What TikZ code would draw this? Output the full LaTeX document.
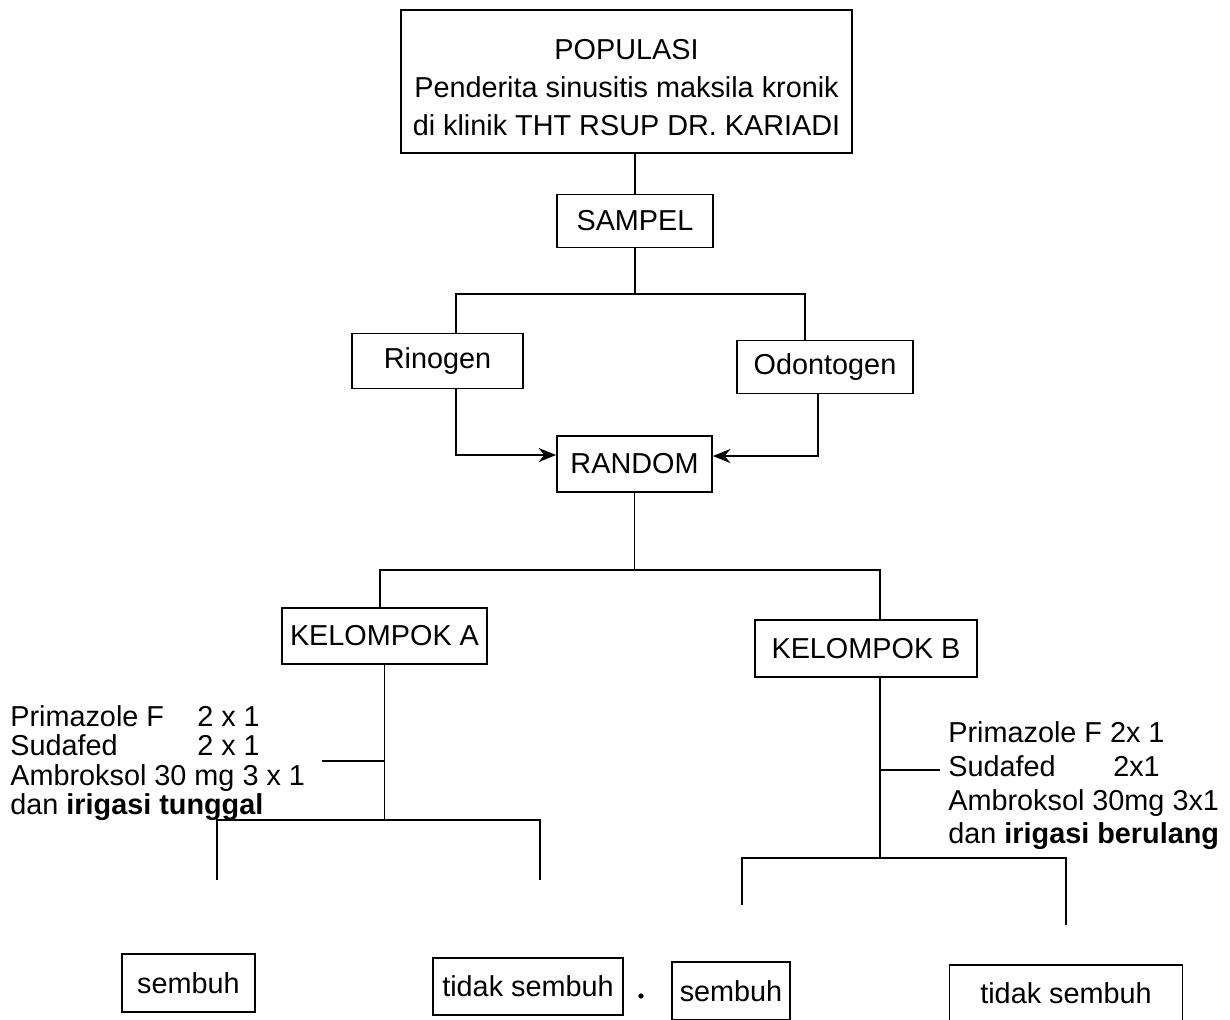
\documentclass[tikz,border=0pt]{standalone}
\usepackage{fontspec}
\setmainfont{Liberation Sans}
\usetikzlibrary{arrows.meta, positioning, calc}

\begin{document}
\begin{tikzpicture}[x=0.02cm, y=-0.02cm,
    every node/.style={font=\fontsize{16.4}{21.8}\selectfont},
    box/.style={rectangle, draw, line width=1pt, inner sep=2pt, align=center},
    note/.style={anchor=north west, inner sep=0pt, align=left},
    link/.style={line width=1pt},
    arr/.style={-{Stealth[length=10pt, width=8pt]}, line width=1pt},
]
\useasboundingbox (0,0) rectangle (1230,1019);

% boxes, top to bottom
\node[box, minimum width=9.02cm, minimum height=2.86cm, text height=62pt] (pop) at (626.5,81.5)
    {POPULASI\\Penderita sinusitis maksila kronik\\di klinik THT RSUP DR. KARIADI};
\node[box, minimum width=3.12cm, minimum height=1.06cm] (sampel) at (635,221) {SAMPEL};
\node[box, minimum width=3.42cm, minimum height=1.1cm] (rin) at (437.5,361) {Rinogen};
\node[box, minimum width=3.52cm, minimum height=1.06cm] (odo) at (825,367) {Odontogen};
\node[box, minimum width=3.1cm, minimum height=1.12cm] (random) at (634.5,464) {RANDOM};
\node[box, minimum width=4.1cm, minimum height=1.12cm] (ka) at (384.5,636) {KELOMPOK A};
\node[box, minimum width=4.44cm, minimum height=1.14cm] (kb) at (866,648.5) {KELOMPOK B};
\node[box, minimum width=2.66cm, minimum height=1.16cm] (sa1) at (188.5,983) {sembuh};
\node[box, minimum width=3.8cm, minimum height=1.14cm] (sa2) at (528,986.5) {tidak sembuh};
\node[box, minimum width=2.36cm, minimum height=1.16cm] (sb1) at (731,991) {sembuh};
\node[box, minimum width=4.66cm, minimum height=1.12cm] (sb2) at (1066,993) {tidak sembuh};

% treatment notes
\node[note, font=\fontsize{16.4}{16.8}\selectfont] (obatA) at (10,705)
    {\makebox[3.74cm][l]{Primazole F}2 x 1\\
     \makebox[3.74cm][l]{Sudafed}2 x 1\\
     Ambroksol 30 mg 3 x 1\\
     dan \textbf{irigasi tunggal}};
\node[note, font=\fontsize{16.4}{19.3}\selectfont] (obatB) at (948,721)
    {Primazole F 2x 1\\
     \makebox[3.3cm][l]{Sudafed}2x1\\
     Ambroksol 30mg 3x1\\
     dan \textbf{irigasi berulang}};

% junction points
\coordinate (s1) at (456,294);
\coordinate (s2) at (805,294);
\coordinate (r1) at (380,570);
\coordinate (r2) at (880,570);
\coordinate (a1) at (217,820);
\coordinate (a2) at (540,820);
\coordinate (a3) at (217,880);
\coordinate (a4) at (540,880);
\coordinate (ta) at (322,761);
\coordinate (b1) at (742,858);
\coordinate (b2) at (1066,858);
\coordinate (b3) at (742,905);
\coordinate (b4) at (1066,925);
\coordinate (tb) at (940,770);

% connectors
\draw[link] (pop.south -| sampel.north) -- (sampel.north);
\draw[link] (sampel.south) -- (sampel.south |- s1);
\draw[link] (rin.north -| s1) -- (s1) -- (s2) -- (odo.north -| s2);
\draw[arr] (rin.south -| s1) |- ([yshift=0.18cm]random.west);
\draw[arr] ([xshift=-0.14cm]odo.south) |- ([yshift=0.16cm]random.east);
\draw[link] (random.south) -- (random.south |- r1);
\draw[link] (ka.north -| r1) -- (r1) -- (r2) -- (kb.north -| r2);

\draw[link] (ka.south) -- (ka.south |- a1);
\draw[link] (ta) -- (ta -| ka.south);
\draw[link] (a3) -- (a1) -- (a2) -- (a4);

\draw[link] (kb.south -| r2) -- (r2 |- b1);
\draw[link] (r2 |- tb) -- (tb);
\draw[link] (b3) -- (b1) -- (b2) -- (b4);

\fill (641,996) circle (1.5pt);
\end{tikzpicture}
\end{document}
